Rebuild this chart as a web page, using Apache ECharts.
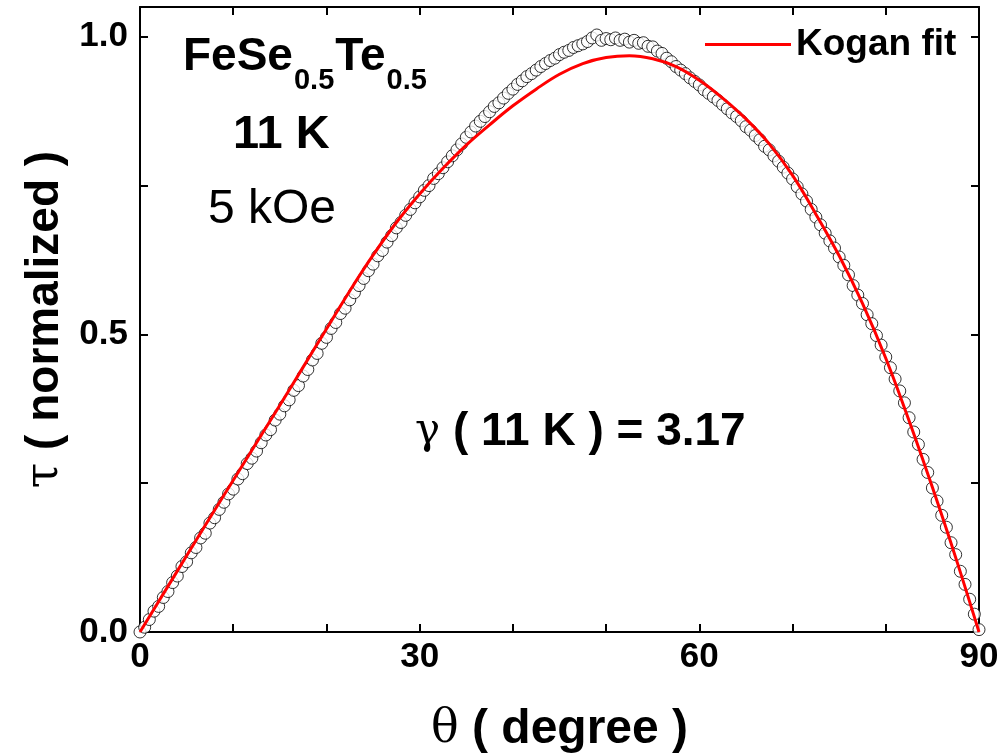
<!DOCTYPE html>
<html>
<head>
<meta charset="utf-8">
<script src="https://cdn.jsdelivr.net/npm/echarts@6/dist/echarts.min.js"></script>
<style>
html,body{margin:0;padding:0;background:#fff;}
#c{width:1007px;height:755px;}
</style>
</head>
<body>
<div id="c"></div>
<script>
// Measured torque (normalized), theta in degrees
const thetaData = [0,0.5,1,1.5,2,2.5,3,3.5,4,4.5,5,5.5,6,6.5,7,7.5,8,8.5,9,9.5,10,10.5,11,11.5,12,12.5,13,13.5,14,14.5,15,15.5,16,16.5,17,17.5,18,18.5,19,19.5,20,20.5,21,21.5,22,22.5,23,23.5,24,24.5,25,25.5,26,26.5,27,27.5,28,28.5,29,29.5,30,30.5,31,31.5,32,32.5,33,33.5,34,34.5,35,35.5,36,36.5,37,37.5,38,38.5,39,39.5,40,40.5,41,41.5,42,42.5,43,43.5,44,44.5,45,45.5,46,46.5,47,47.5,48,48.5,49,49.5,50,50.5,51,51.5,52,52.5,53,53.5,54,54.5,55,55.5,56,56.5,57,57.5,58,58.5,59,59.5,60,60.5,61,61.5,62,62.5,63,63.5,64,64.5,65,65.5,66,66.5,67,67.5,68,68.5,69,69.5,70,70.5,71,71.5,72,72.5,73,73.5,74,74.5,75,75.5,76,76.5,77,77.5,78,78.5,79,79.5,80,80.5,81,81.5,82,82.5,83,83.5,84,84.5,85,85.5,86,86.5,87,87.5,88,88.5,89,89.5,90];
const tauData = [0.000,0.008,0.021,0.035,0.043,0.058,0.068,0.083,0.094,0.110,0.118,0.133,0.142,0.158,0.166,0.183,0.192,0.206,0.218,0.232,0.240,0.257,0.266,0.283,0.292,0.304,0.318,0.331,0.340,0.356,0.366,0.380,0.390,0.406,0.414,0.430,0.441,0.457,0.468,0.485,0.495,0.510,0.520,0.535,0.544,0.558,0.570,0.582,0.594,0.607,0.618,0.632,0.641,0.655,0.666,0.679,0.688,0.700,0.710,0.721,0.731,0.742,0.750,0.762,0.770,0.780,0.790,0.800,0.810,0.820,0.831,0.840,0.850,0.858,0.866,0.874,0.883,0.889,0.897,0.905,0.912,0.920,0.926,0.933,0.938,0.944,0.950,0.955,0.960,0.964,0.970,0.974,0.977,0.982,0.985,0.988,0.992,0.998,1.003,0.994,0.997,0.995,0.998,0.994,0.996,0.991,0.994,0.989,0.990,0.984,0.983,0.976,0.972,0.964,0.958,0.950,0.944,0.938,0.931,0.925,0.919,0.911,0.905,0.899,0.893,0.886,0.879,0.872,0.866,0.859,0.849,0.843,0.834,0.827,0.816,0.810,0.800,0.791,0.781,0.771,0.761,0.748,0.736,0.724,0.710,0.697,0.684,0.670,0.657,0.645,0.630,0.616,0.600,0.582,0.566,0.552,0.533,0.518,0.498,0.482,0.462,0.444,0.425,0.405,0.385,0.360,0.336,0.315,0.290,0.268,0.242,0.220,0.196,0.176,0.150,0.130,0.102,0.080,0.055,0.030,0.004];
// Kogan fit curve
const thetaFit = [0,2.5,5,7.5,10,12.5,15,17.5,20,22.5,25,27.5,30,32.5,35,37.5,40,42.5,45,47.5,50,52.5,55,57.5,60,62.5,65,67.5,70,72.5,75,77.5,80,82.5,85,87.5,90];
const tauFit = [0,0.064,0.128,0.192,0.255,0.318,0.381,0.445,0.509,0.573,0.633,0.688,0.736,0.779,0.818,0.852,0.884,0.912,0.937,0.955,0.965,0.968,0.963,0.950,0.927,0.897,0.862,0.820,0.767,0.702,0.632,0.552,0.460,0.355,0.243,0.125,0];
const xTicks = [0,30,60,90];
const yTicks = [0,0.5,1.0];

const F = '"Liberation Sans", Arial, sans-serif';
const chart = echarts.init(document.getElementById('c'), null, {renderer:'canvas'});

const mctx = document.createElement('canvas').getContext('2d');
function textW(t, font){ mctx.font = font; return mctx.measureText(t).width; }

const axLine = {show:true, onZero:false, lineStyle:{color:'#000', width:2}};
const tickStyle = {inside:true, length:8, lineStyle:{color:'#000', width:2}};
const xTickLab = v => xTicks.some(t => Math.abs(t - v) < 1e-6) ? String(Math.round(v)) : '';
const yTickLab = v => yTicks.some(t => Math.abs(t - v) < 1e-6) ? v.toFixed(1) : '';

// Compound label FeSe0.5Te0.5 layout
const bigFont = 'bold 46px "Liberation Sans"';
const subFont = 'bold 29px "Liberation Sans"';
const fx0 = 183, bigMid = 57, subMid = 81;
const wFeSe = textW('FeSe', bigFont), wSub = textW('0.5', subFont), wTe = textW('Te', bigFont);
const formula = [
  {t:'FeSe', x:fx0, y:bigMid, s:46},
  {t:'0.5', x:fx0 + wFeSe + 1, y:subMid, s:29},
  {t:'Te', x:fx0 + wFeSe + wSub + 2, y:bigMid, s:46},
  {t:'0.5', x:fx0 + wFeSe + wSub + wTe + 3, y:subMid, s:29}
].map(p => ({type:'text', x:p.x, y:p.y, style:{text:p.t, fontFamily:F, fontWeight:'bold', fontSize:p.s, fill:'#000', align:'left', verticalAlign:'middle'}}));

chart.setOption({
  animation:false,
  backgroundColor:'#fff',
  grid:{left:140, right:28, top:7, bottom:123, containLabel:false, outerBoundsMode:'none'},
  legend:{
    show:true, data:[{name:'Kogan fit', icon:'rect'}], left:700, top:21,
    itemWidth:86, itemHeight:3, itemGap:10,
    textStyle:{fontFamily:F, fontWeight:'bold', fontSize:37, color:'#000'}
  },
  xAxis:[{
    type:'value', min:0, max:90, interval:10, position:'bottom',
    axisLine:axLine, splitLine:{show:false}, axisTick:tickStyle,
    axisLabel:{formatter:xTickLab, fontFamily:F, fontWeight:'bold', fontSize:35, color:'#000', margin:8},
    name:'{s|θ}{b| ( degree )}', nameLocation:'middle', nameGap:74,
    nameTextStyle:{rich:{
      s:{fontFamily:'"DejaVu Serif", serif', fontSize:46, color:'#000'},
      b:{fontFamily:F, fontWeight:'bold', fontSize:48, color:'#000'}
    }}
  },{
    type:'value', min:0, max:90, interval:10, position:'top',
    axisLine:axLine, splitLine:{show:false}, axisTick:tickStyle,
    axisLabel:{show:false}
  }],
  yAxis:[{
    type:'value', min:0, max:1.05, interval:0.25, position:'left',
    axisLine:axLine, splitLine:{show:false}, axisTick:tickStyle,
    axisLabel:{formatter:yTickLab, showMaxLabel:false, fontFamily:F, fontWeight:'bold', fontSize:35, color:'#000', margin:12},
    name:'{s|τ}{b| ( normalized )}', nameLocation:'middle', nameGap:71, nameRotate:90,
    nameTextStyle:{rich:{
      s:{fontFamily:'"DejaVu Serif", serif', fontSize:46, color:'#000'},
      b:{fontFamily:F, fontWeight:'bold', fontSize:46, color:'#000'}
    }}
  },{
    type:'value', min:0, max:1.05, interval:0.25, position:'right',
    axisLine:axLine, splitLine:{show:false}, axisTick:tickStyle,
    axisLabel:{show:false}
  }],
  series:[{
    name:'data', type:'scatter',
    data: thetaData.map((t,i)=>[t, tauData[i]]),
    symbol:'circle', symbolSize:12,
    itemStyle:{color:'#fff', borderColor:'#000', borderWidth:1},
    z:2
  },{
    name:'Kogan fit', type:'line',
    data: thetaFit.map((t,i)=>[t, tauFit[i]]),
    smooth:0.4, showSymbol:false, symbol:'none',
    lineStyle:{color:'#ff0000', width:3},
    itemStyle:{color:'#ff0000'},
    z:3
  }],
  graphic: formula.concat([
    {type:'text', x:233, y:135, style:{text:'11 K', fontFamily:F, fontWeight:'bold', fontSize:47, fill:'#000', verticalAlign:'middle'}},
    {type:'text', x:208, y:210, style:{text:'5 kOe', fontFamily:F, fontSize:48, fill:'#000', verticalAlign:'middle'}},
    {type:'text', x:415, y:432, style:{
      text:'{g|γ}{b| ( 11 K ) = 3.17}', verticalAlign:'middle',
      rich:{
        g:{fontFamily:'"DejaVu Serif", serif', fontSize:42, color:'#000'},
        b:{fontFamily:F, fontWeight:'bold', fontSize:46, color:'#000'}
      }}}
  ])
});
</script>
</body>
</html>
